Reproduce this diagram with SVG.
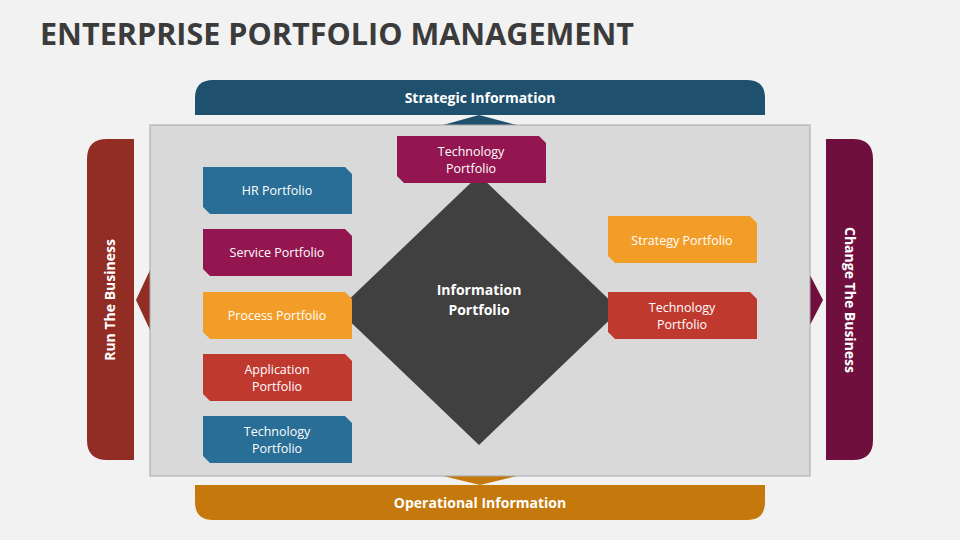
<svg xmlns="http://www.w3.org/2000/svg" width="960" height="540" viewBox="0 0 960 540">
<style>
.t{font-family:"Open Sans","Liberation Sans",sans-serif;fill:#fff;text-anchor:middle;font-size:12.5px}
.b{font-weight:bold;font-size:14px}
</style>
<defs>
<path id="bx" d="M0,0H142L149,7V47H7L0,40Z"/>
</defs>
<rect width="960" height="540" fill="#f2f2f2"/>
<text x="40" y="45" font-family="Open Sans,Liberation Sans,sans-serif" font-weight="bold" font-size="31" fill="#3b3b3b" textLength="594" lengthAdjust="spacingAndGlyphs">ENTERPRISE PORTFOLIO MANAGEMENT</text>
<g id="strategic">
<path d="M195,115V98Q195,80 213,80H747Q765,80 765,98V115Z" fill="#1f506e"/>
<polygon points="479,115 443,125 517,125" fill="#1f506e"/>
<text class="t b" x="480" y="103">Strategic Information</text>
</g>
<g id="operational">
<path d="M195,485H765V502Q765,520 747,520H213Q195,520 195,502Z" fill="#c5780b"/>
<polygon points="443,476 517,476 480,485" fill="#c5780b"/>
<text class="t b" x="480" y="508">Operational Information</text>
</g>
<g id="run">
<path d="M134,139V460H107Q87,460 87,440V159Q87,139 107,139Z" fill="#912d24"/>
<polygon points="150,270 150,330 136,300" fill="#912d24"/>
<text class="t b" transform="translate(115,300) rotate(-90)">Run The Business</text>
</g>
<g id="change">
<path d="M826,139H853Q873,139 873,159V440Q873,460 853,460H826Z" fill="#6e0f3e"/>
<polygon points="810,275 810,325 823,300" fill="#6e0f3e"/>
<text class="t b" transform="translate(845,300) rotate(90)">Change The Business</text>
</g>
<rect x="150" y="125" width="660" height="351" fill="#d9d9d9" stroke="#a6a6a6"/>
<g id="info">
<polygon points="479,175 620,310 479,445 338,310" fill="#404040"/>
<text class="t b" x="479" y="295" font-size="15">Information</text>
<text class="t b" x="479" y="315" font-size="15">Portfolio</text>
</g>
<g id="connectors"></g>
<g id="tech-top"><use href="#bx" x="397" y="136" fill="#931650"/><text class="t" x="471" y="156">Technology</text><text class="t" x="471" y="173">Portfolio</text></g>
<g id="hr"><use href="#bx" x="203" y="167" fill="#286e96"/><text class="t" x="277" y="195">HR Portfolio</text></g>
<g id="service"><use href="#bx" x="203" y="229" fill="#931650"/><text class="t" x="277" y="257">Service Portfolio</text></g>
<g id="process"><use href="#bx" x="203" y="292" fill="#f39d29"/><text class="t" x="277" y="320">Process Portfolio</text></g>
<g id="application"><use href="#bx" x="203" y="354" fill="#c0392f"/><text class="t" x="277" y="374">Application</text><text class="t" x="277" y="391">Portfolio</text></g>
<g id="tech-left"><use href="#bx" x="203" y="416" fill="#286e96"/><text class="t" x="277" y="436">Technology</text><text class="t" x="277" y="453">Portfolio</text></g>
<g id="strategy"><use href="#bx" x="608" y="216" fill="#f39d29"/><text class="t" x="682" y="245">Strategy Portfolio</text></g>
<g id="tech-right"><use href="#bx" x="608" y="292" fill="#c0392f"/><text class="t" x="682" y="312">Technology</text><text class="t" x="682" y="329">Portfolio</text></g>
</svg>
